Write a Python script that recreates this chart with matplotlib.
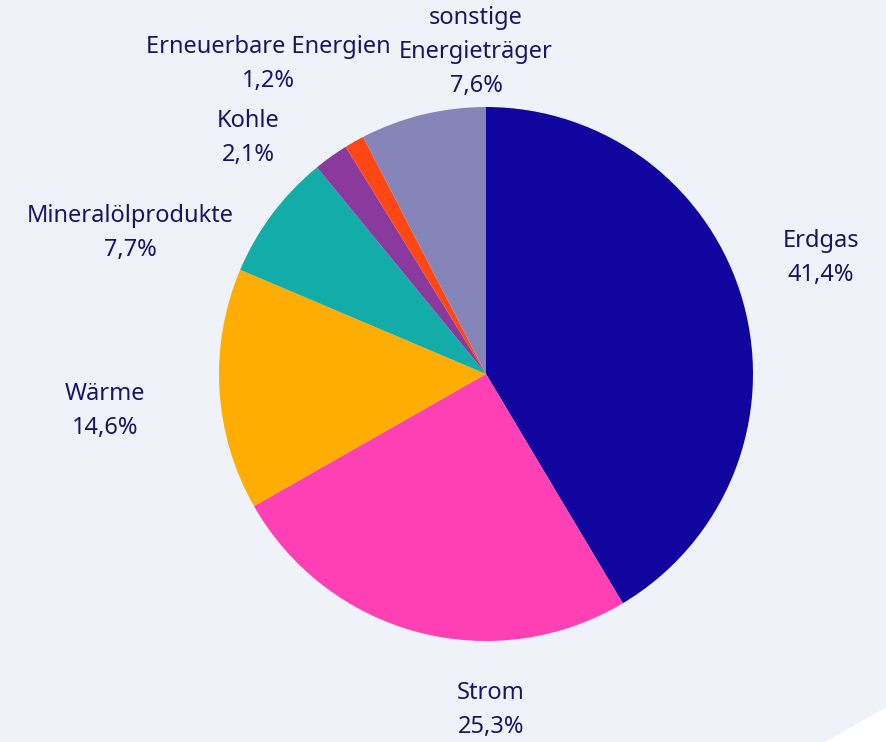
import matplotlib
matplotlib.use("Agg")
import matplotlib.pyplot as plt
from matplotlib.patches import Polygon

categories = ["Erdgas", "Strom", "Wärme", "Mineralölprodukte", "Kohle",
              "Erneuerbare Energien", "sonstige\nEnergieträger"]
values = [41.4, 25.3, 14.6, 7.7, 2.1, 1.2, 7.6]
value_labels = ["41,4%", "25,3%", "14,6%", "7,7%", "2,1%", "1,2%", "7,6%"]
colors = ["#10069F", "#FF40B4", "#FFAD00", "#12ADA8", "#8A3A9C", "#FF4713", "#8585BA"]

# layout (pixel positions of label centers)
label_pos = [(821, 258), (491, 710), (105, 411), (130, 233), (248, 138), (268, 64), (476, 52)]

W, H = 887, 742
bg = "#EFF3F9"
txt = "#1B1464"
plt.rcParams['font.family'] = ['Noto Sans', 'DejaVu Sans']

fig = plt.figure(figsize=(W / 100, H / 100), dpi=100)
fig.patch.set_facecolor(bg)
fig.patches.append(Polygon([(1.0, (H - 707) / H), (1.0, 0.0), (825 / W, 0.0)],
                           closed=True, transform=fig.transFigure,
                           facecolor="white", edgecolor="none", zorder=0))
ax = fig.add_axes([0, 0, 1, 1])
ax.set_facecolor("none")
cx, cy, r = 486, H - 374, 267
ax.pie(values, colors=colors, startangle=90, counterclock=False,
       center=(cx, cy), radius=r, wedgeprops=dict(linewidth=0))
ax.set_xlim(0, W)
ax.set_ylim(0, H)
ax.set_aspect('equal')
ax.axis('off')

for cat, vl, (x, y) in zip(categories, value_labels, label_pos):
    ax.text(x, H - y, cat + "\n" + vl, ha="center", va="center", color=txt,
            fontsize=17, linespacing=1.55)

fig.savefig("out.png", dpi=100, facecolor=bg)
